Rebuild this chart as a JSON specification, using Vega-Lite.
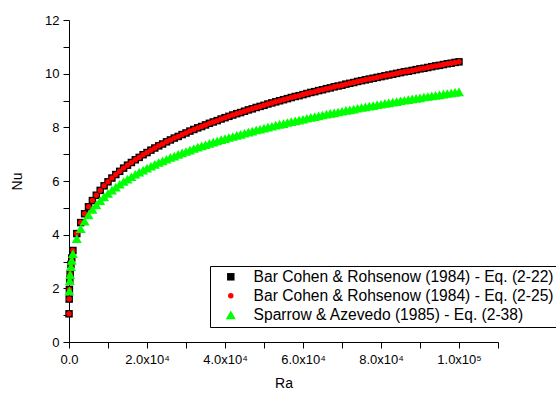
{
"$schema":"https://vega.github.io/schema/vega-lite/v6.json",
"width":429,"height":322,
"autosize":"none",
"padding":{"left":69,"top":20,"right":58,"bottom":52},
"background":"white",
"config":{"view":{"stroke":null},"font":"Liberation Sans"},
"data":{"values":[
{"s":"A","Ra":10,"Nu":1.05},{"s":"A","Ra":50,"Nu":1.6},{"s":"A","Ra":100,"Nu":1.96},{"s":"A","Ra":200,"Nu":2.31},{"s":"A","Ra":300,"Nu":2.55},{"s":"A","Ra":500,"Nu":2.89},{"s":"A","Ra":700,"Nu":3.13},
{"s":"A","Ra":1000,"Nu":3.41},{"s":"A","Ra":2000,"Nu":4.04},{"s":"A","Ra":3000,"Nu":4.45},{"s":"A","Ra":4000,"Nu":4.78},{"s":"A","Ra":5000,"Nu":5.04},{"s":"A","Ra":6000,"Nu":5.27},{"s":"A","Ra":7000,"Nu":5.47},{"s":"A","Ra":8000,"Nu":5.65},{"s":"A","Ra":9000,"Nu":5.82},{"s":"A","Ra":10000,"Nu":5.97},
{"s":"A","Ra":11000,"Nu":6.11},{"s":"A","Ra":12000,"Nu":6.24},{"s":"A","Ra":13000,"Nu":6.36},{"s":"A","Ra":14000,"Nu":6.48},{"s":"A","Ra":15000,"Nu":6.59},{"s":"A","Ra":16000,"Nu":6.69},{"s":"A","Ra":17000,"Nu":6.79},{"s":"A","Ra":18000,"Nu":6.88},{"s":"A","Ra":19000,"Nu":6.98},{"s":"A","Ra":20000,"Nu":7.06},
{"s":"A","Ra":21000,"Nu":7.15},{"s":"A","Ra":22000,"Nu":7.23},{"s":"A","Ra":23000,"Nu":7.31},{"s":"A","Ra":24000,"Nu":7.38},{"s":"A","Ra":25000,"Nu":7.46},{"s":"A","Ra":26000,"Nu":7.53},{"s":"A","Ra":27000,"Nu":7.6},{"s":"A","Ra":28000,"Nu":7.66},{"s":"A","Ra":29000,"Nu":7.73},{"s":"A","Ra":30000,"Nu":7.79},
{"s":"A","Ra":31000,"Nu":7.86},{"s":"A","Ra":32000,"Nu":7.92},{"s":"A","Ra":33000,"Nu":7.98},{"s":"A","Ra":34000,"Nu":8.03},{"s":"A","Ra":35000,"Nu":8.09},{"s":"A","Ra":36000,"Nu":8.15},{"s":"A","Ra":37000,"Nu":8.2},{"s":"A","Ra":38000,"Nu":8.25},{"s":"A","Ra":39000,"Nu":8.31},{"s":"A","Ra":40000,"Nu":8.36},
{"s":"A","Ra":41000,"Nu":8.41},{"s":"A","Ra":42000,"Nu":8.46},{"s":"A","Ra":43000,"Nu":8.51},{"s":"A","Ra":44000,"Nu":8.55},{"s":"A","Ra":45000,"Nu":8.6},{"s":"A","Ra":46000,"Nu":8.65},{"s":"A","Ra":47000,"Nu":8.69},{"s":"A","Ra":48000,"Nu":8.74},{"s":"A","Ra":49000,"Nu":8.78},{"s":"A","Ra":50000,"Nu":8.82},
{"s":"A","Ra":51000,"Nu":8.87},{"s":"A","Ra":52000,"Nu":8.91},{"s":"A","Ra":53000,"Nu":8.95},{"s":"A","Ra":54000,"Nu":8.99},{"s":"A","Ra":55000,"Nu":9.03},{"s":"A","Ra":56000,"Nu":9.07},{"s":"A","Ra":57000,"Nu":9.11},{"s":"A","Ra":58000,"Nu":9.15},{"s":"A","Ra":59000,"Nu":9.18},{"s":"A","Ra":60000,"Nu":9.22},
{"s":"A","Ra":61000,"Nu":9.26},{"s":"A","Ra":62000,"Nu":9.3},{"s":"A","Ra":63000,"Nu":9.33},{"s":"A","Ra":64000,"Nu":9.37},{"s":"A","Ra":65000,"Nu":9.4},{"s":"A","Ra":66000,"Nu":9.44},{"s":"A","Ra":67000,"Nu":9.47},{"s":"A","Ra":68000,"Nu":9.51},{"s":"A","Ra":69000,"Nu":9.54},{"s":"A","Ra":70000,"Nu":9.57},
{"s":"A","Ra":71000,"Nu":9.61},{"s":"A","Ra":72000,"Nu":9.64},{"s":"A","Ra":73000,"Nu":9.67},{"s":"A","Ra":74000,"Nu":9.71},{"s":"A","Ra":75000,"Nu":9.74},{"s":"A","Ra":76000,"Nu":9.77},{"s":"A","Ra":77000,"Nu":9.8},{"s":"A","Ra":78000,"Nu":9.83},{"s":"A","Ra":79000,"Nu":9.86},{"s":"A","Ra":80000,"Nu":9.89},
{"s":"A","Ra":81000,"Nu":9.92},{"s":"A","Ra":82000,"Nu":9.95},{"s":"A","Ra":83000,"Nu":9.98},{"s":"A","Ra":84000,"Nu":10.01},{"s":"A","Ra":85000,"Nu":10.04},{"s":"A","Ra":86000,"Nu":10.07},{"s":"A","Ra":87000,"Nu":10.09},{"s":"A","Ra":88000,"Nu":10.12},{"s":"A","Ra":89000,"Nu":10.15},{"s":"A","Ra":90000,"Nu":10.18},
{"s":"A","Ra":91000,"Nu":10.2},{"s":"A","Ra":92000,"Nu":10.23},{"s":"A","Ra":93000,"Nu":10.26},{"s":"A","Ra":94000,"Nu":10.29},{"s":"A","Ra":95000,"Nu":10.31},{"s":"A","Ra":96000,"Nu":10.34},{"s":"A","Ra":97000,"Nu":10.37},{"s":"A","Ra":98000,"Nu":10.39},{"s":"A","Ra":99000,"Nu":10.42},{"s":"A","Ra":100000,"Nu":10.44},
{"s":"B","Ra":10,"Nu":1.05},{"s":"B","Ra":50,"Nu":1.6},{"s":"B","Ra":100,"Nu":1.96},{"s":"B","Ra":200,"Nu":2.31},{"s":"B","Ra":300,"Nu":2.55},{"s":"B","Ra":500,"Nu":2.89},{"s":"B","Ra":700,"Nu":3.13},
{"s":"B","Ra":1000,"Nu":3.41},{"s":"B","Ra":2000,"Nu":4.04},{"s":"B","Ra":3000,"Nu":4.45},{"s":"B","Ra":4000,"Nu":4.78},{"s":"B","Ra":5000,"Nu":5.04},{"s":"B","Ra":6000,"Nu":5.27},{"s":"B","Ra":7000,"Nu":5.47},{"s":"B","Ra":8000,"Nu":5.65},{"s":"B","Ra":9000,"Nu":5.82},{"s":"B","Ra":10000,"Nu":5.97},
{"s":"B","Ra":11000,"Nu":6.11},{"s":"B","Ra":12000,"Nu":6.24},{"s":"B","Ra":13000,"Nu":6.36},{"s":"B","Ra":14000,"Nu":6.48},{"s":"B","Ra":15000,"Nu":6.59},{"s":"B","Ra":16000,"Nu":6.69},{"s":"B","Ra":17000,"Nu":6.79},{"s":"B","Ra":18000,"Nu":6.88},{"s":"B","Ra":19000,"Nu":6.98},{"s":"B","Ra":20000,"Nu":7.06},
{"s":"B","Ra":21000,"Nu":7.15},{"s":"B","Ra":22000,"Nu":7.23},{"s":"B","Ra":23000,"Nu":7.31},{"s":"B","Ra":24000,"Nu":7.38},{"s":"B","Ra":25000,"Nu":7.46},{"s":"B","Ra":26000,"Nu":7.53},{"s":"B","Ra":27000,"Nu":7.6},{"s":"B","Ra":28000,"Nu":7.66},{"s":"B","Ra":29000,"Nu":7.73},{"s":"B","Ra":30000,"Nu":7.79},
{"s":"B","Ra":31000,"Nu":7.86},{"s":"B","Ra":32000,"Nu":7.92},{"s":"B","Ra":33000,"Nu":7.98},{"s":"B","Ra":34000,"Nu":8.03},{"s":"B","Ra":35000,"Nu":8.09},{"s":"B","Ra":36000,"Nu":8.15},{"s":"B","Ra":37000,"Nu":8.2},{"s":"B","Ra":38000,"Nu":8.25},{"s":"B","Ra":39000,"Nu":8.31},{"s":"B","Ra":40000,"Nu":8.36},
{"s":"B","Ra":41000,"Nu":8.41},{"s":"B","Ra":42000,"Nu":8.46},{"s":"B","Ra":43000,"Nu":8.51},{"s":"B","Ra":44000,"Nu":8.55},{"s":"B","Ra":45000,"Nu":8.6},{"s":"B","Ra":46000,"Nu":8.65},{"s":"B","Ra":47000,"Nu":8.69},{"s":"B","Ra":48000,"Nu":8.74},{"s":"B","Ra":49000,"Nu":8.78},{"s":"B","Ra":50000,"Nu":8.82},
{"s":"B","Ra":51000,"Nu":8.87},{"s":"B","Ra":52000,"Nu":8.91},{"s":"B","Ra":53000,"Nu":8.95},{"s":"B","Ra":54000,"Nu":8.99},{"s":"B","Ra":55000,"Nu":9.03},{"s":"B","Ra":56000,"Nu":9.07},{"s":"B","Ra":57000,"Nu":9.11},{"s":"B","Ra":58000,"Nu":9.15},{"s":"B","Ra":59000,"Nu":9.18},{"s":"B","Ra":60000,"Nu":9.22},
{"s":"B","Ra":61000,"Nu":9.26},{"s":"B","Ra":62000,"Nu":9.3},{"s":"B","Ra":63000,"Nu":9.33},{"s":"B","Ra":64000,"Nu":9.37},{"s":"B","Ra":65000,"Nu":9.4},{"s":"B","Ra":66000,"Nu":9.44},{"s":"B","Ra":67000,"Nu":9.47},{"s":"B","Ra":68000,"Nu":9.51},{"s":"B","Ra":69000,"Nu":9.54},{"s":"B","Ra":70000,"Nu":9.57},
{"s":"B","Ra":71000,"Nu":9.61},{"s":"B","Ra":72000,"Nu":9.64},{"s":"B","Ra":73000,"Nu":9.67},{"s":"B","Ra":74000,"Nu":9.71},{"s":"B","Ra":75000,"Nu":9.74},{"s":"B","Ra":76000,"Nu":9.77},{"s":"B","Ra":77000,"Nu":9.8},{"s":"B","Ra":78000,"Nu":9.83},{"s":"B","Ra":79000,"Nu":9.86},{"s":"B","Ra":80000,"Nu":9.89},
{"s":"B","Ra":81000,"Nu":9.92},{"s":"B","Ra":82000,"Nu":9.95},{"s":"B","Ra":83000,"Nu":9.98},{"s":"B","Ra":84000,"Nu":10.01},{"s":"B","Ra":85000,"Nu":10.04},{"s":"B","Ra":86000,"Nu":10.07},{"s":"B","Ra":87000,"Nu":10.09},{"s":"B","Ra":88000,"Nu":10.12},{"s":"B","Ra":89000,"Nu":10.15},{"s":"B","Ra":90000,"Nu":10.18},
{"s":"B","Ra":91000,"Nu":10.2},{"s":"B","Ra":92000,"Nu":10.23},{"s":"B","Ra":93000,"Nu":10.26},{"s":"B","Ra":94000,"Nu":10.29},{"s":"B","Ra":95000,"Nu":10.31},{"s":"B","Ra":96000,"Nu":10.34},{"s":"B","Ra":97000,"Nu":10.37},{"s":"B","Ra":98000,"Nu":10.39},{"s":"B","Ra":99000,"Nu":10.42},{"s":"B","Ra":100000,"Nu":10.44},
{"s":"C","Ra":100,"Nu":1.9},{"s":"C","Ra":200,"Nu":2.29},{"s":"C","Ra":300,"Nu":2.51},{"s":"C","Ra":500,"Nu":2.81},{"s":"C","Ra":700,"Nu":3.04},
{"s":"C","Ra":1000,"Nu":3.29},{"s":"C","Ra":2000,"Nu":3.85},{"s":"C","Ra":3000,"Nu":4.22},{"s":"C","Ra":4000,"Nu":4.5},{"s":"C","Ra":5000,"Nu":4.74},{"s":"C","Ra":6000,"Nu":4.94},{"s":"C","Ra":7000,"Nu":5.11},{"s":"C","Ra":8000,"Nu":5.27},{"s":"C","Ra":9000,"Nu":5.41},{"s":"C","Ra":10000,"Nu":5.54},
{"s":"C","Ra":11000,"Nu":5.66},{"s":"C","Ra":12000,"Nu":5.77},{"s":"C","Ra":13000,"Nu":5.88},{"s":"C","Ra":14000,"Nu":5.98},{"s":"C","Ra":15000,"Nu":6.07},{"s":"C","Ra":16000,"Nu":6.16},{"s":"C","Ra":17000,"Nu":6.25},{"s":"C","Ra":18000,"Nu":6.33},{"s":"C","Ra":19000,"Nu":6.4},{"s":"C","Ra":20000,"Nu":6.48},
{"s":"C","Ra":21000,"Nu":6.55},{"s":"C","Ra":22000,"Nu":6.62},{"s":"C","Ra":23000,"Nu":6.69},{"s":"C","Ra":24000,"Nu":6.75},{"s":"C","Ra":25000,"Nu":6.81},{"s":"C","Ra":26000,"Nu":6.88},{"s":"C","Ra":27000,"Nu":6.93},{"s":"C","Ra":28000,"Nu":6.99},{"s":"C","Ra":29000,"Nu":7.05},{"s":"C","Ra":30000,"Nu":7.1},
{"s":"C","Ra":31000,"Nu":7.15},{"s":"C","Ra":32000,"Nu":7.21},{"s":"C","Ra":33000,"Nu":7.26},{"s":"C","Ra":34000,"Nu":7.31},{"s":"C","Ra":35000,"Nu":7.35},{"s":"C","Ra":36000,"Nu":7.4},{"s":"C","Ra":37000,"Nu":7.45},{"s":"C","Ra":38000,"Nu":7.49},{"s":"C","Ra":39000,"Nu":7.54},{"s":"C","Ra":40000,"Nu":7.58},
{"s":"C","Ra":41000,"Nu":7.62},{"s":"C","Ra":42000,"Nu":7.66},{"s":"C","Ra":43000,"Nu":7.7},{"s":"C","Ra":44000,"Nu":7.74},{"s":"C","Ra":45000,"Nu":7.78},{"s":"C","Ra":46000,"Nu":7.82},{"s":"C","Ra":47000,"Nu":7.86},{"s":"C","Ra":48000,"Nu":7.9},{"s":"C","Ra":49000,"Nu":7.93},{"s":"C","Ra":50000,"Nu":7.97},
{"s":"C","Ra":51000,"Nu":8.01},{"s":"C","Ra":52000,"Nu":8.04},{"s":"C","Ra":53000,"Nu":8.08},{"s":"C","Ra":54000,"Nu":8.11},{"s":"C","Ra":55000,"Nu":8.14},{"s":"C","Ra":56000,"Nu":8.18},{"s":"C","Ra":57000,"Nu":8.21},{"s":"C","Ra":58000,"Nu":8.24},{"s":"C","Ra":59000,"Nu":8.27},{"s":"C","Ra":60000,"Nu":8.3},
{"s":"C","Ra":61000,"Nu":8.34},{"s":"C","Ra":62000,"Nu":8.37},{"s":"C","Ra":63000,"Nu":8.4},{"s":"C","Ra":64000,"Nu":8.43},{"s":"C","Ra":65000,"Nu":8.46},{"s":"C","Ra":66000,"Nu":8.49},{"s":"C","Ra":67000,"Nu":8.52},{"s":"C","Ra":68000,"Nu":8.54},{"s":"C","Ra":69000,"Nu":8.57},{"s":"C","Ra":70000,"Nu":8.6},
{"s":"C","Ra":71000,"Nu":8.63},{"s":"C","Ra":72000,"Nu":8.65},{"s":"C","Ra":73000,"Nu":8.68},{"s":"C","Ra":74000,"Nu":8.71},{"s":"C","Ra":75000,"Nu":8.74},{"s":"C","Ra":76000,"Nu":8.76},{"s":"C","Ra":77000,"Nu":8.79},{"s":"C","Ra":78000,"Nu":8.81},{"s":"C","Ra":79000,"Nu":8.84},{"s":"C","Ra":80000,"Nu":8.86},
{"s":"C","Ra":81000,"Nu":8.89},{"s":"C","Ra":82000,"Nu":8.91},{"s":"C","Ra":83000,"Nu":8.94},{"s":"C","Ra":84000,"Nu":8.96},{"s":"C","Ra":85000,"Nu":8.99},{"s":"C","Ra":86000,"Nu":9.01},{"s":"C","Ra":87000,"Nu":9.03},{"s":"C","Ra":88000,"Nu":9.06},{"s":"C","Ra":89000,"Nu":9.08},{"s":"C","Ra":90000,"Nu":9.1},
{"s":"C","Ra":91000,"Nu":9.13},{"s":"C","Ra":92000,"Nu":9.15},{"s":"C","Ra":93000,"Nu":9.17},{"s":"C","Ra":94000,"Nu":9.19},{"s":"C","Ra":95000,"Nu":9.21},{"s":"C","Ra":96000,"Nu":9.24},{"s":"C","Ra":97000,"Nu":9.26},{"s":"C","Ra":98000,"Nu":9.28},{"s":"C","Ra":99000,"Nu":9.3},{"s":"C","Ra":100000,"Nu":9.32}
]},
"mark":{"type":"point","filled":true,"opacity":1,"strokeWidth":0},
"encoding":{
"x":{"field":"Ra","type":"quantitative","scale":{"domain":[0,110000],"nice":false,"zero":false},
"axis":{"title":"Ra","values":[0,10000,20000,30000,40000,50000,60000,70000,80000,90000,100000,110000],
"labelExpr":"datum.value==0?'0.0':(datum.value%20000!=0||datum.value>100000)?'':(datum.value>=100000?'1.0x10⁵':format(datum.value/10000,'.1f')+'x10⁴')",
"tickSize":6,"labelPadding":5,"labelFontSize":13,"titleFontSize":14,"titleFontWeight":"normal","titlePadding":10,"grid":false,
"domainColor":"#000","tickColor":"#000","labelColor":"#000","titleColor":"#000","labelFlush":false,"labelOverlap":false,
"encode":{"ticks":{"update":{"y2":{"signal":"datum.value%20000==0?6:3"}}}}}},
"y":{"field":"Nu","type":"quantitative","scale":{"domain":[0,12],"nice":false,"zero":false},
"axis":{"title":"Nu","values":[0,1,2,3,4,5,6,7,8,9,10,11,12],
"labelExpr":"datum.value%2==0?datum.label:''",
"tickSize":6,"labelPadding":4,"labelFontSize":13,"titleFontSize":14,"titleFontWeight":"normal","titlePadding":20,"grid":false,
"domainColor":"#000","tickColor":"#000","labelColor":"#000","titleColor":"#000","labelFlush":false,"labelOverlap":false,
"encode":{"ticks":{"update":{"x2":{"signal":"datum.value%2==0?-6:-3"}}}}}},
"color":{"field":"s","type":"nominal","scale":{"domain":["A","B","C"],"range":["#000000","#ff0000","#00ff00"]},
"legend":{"orient":"none","legendX":141,"legendY":246,"title":null,"strokeColor":"#000","fillColor":"#fff","padding":3,
"labelFontSize":15.6,"labelColor":"#000","labelLimit":500,"symbolOffset":10,"labelOffset":15,"rowPadding":2,
"labelExpr":"datum.label=='A'?'Bar Cohen & Rohsenow (1984) - Eq. (2-22)':datum.label=='B'?'Bar Cohen & Rohsenow (1984) - Eq. (2-25)':'Sparrow & Azevedo (1985) - Eq. (2-38)'"}},
"shape":{"field":"s","type":"nominal","scale":{"domain":["A","B","C"],"range":["square","circle","triangle-up"]}},
"size":{"field":"s","type":"nominal","scale":{"type":"ordinal","domain":["A","B","C"],"range":[56,30,100]}}
}
}
